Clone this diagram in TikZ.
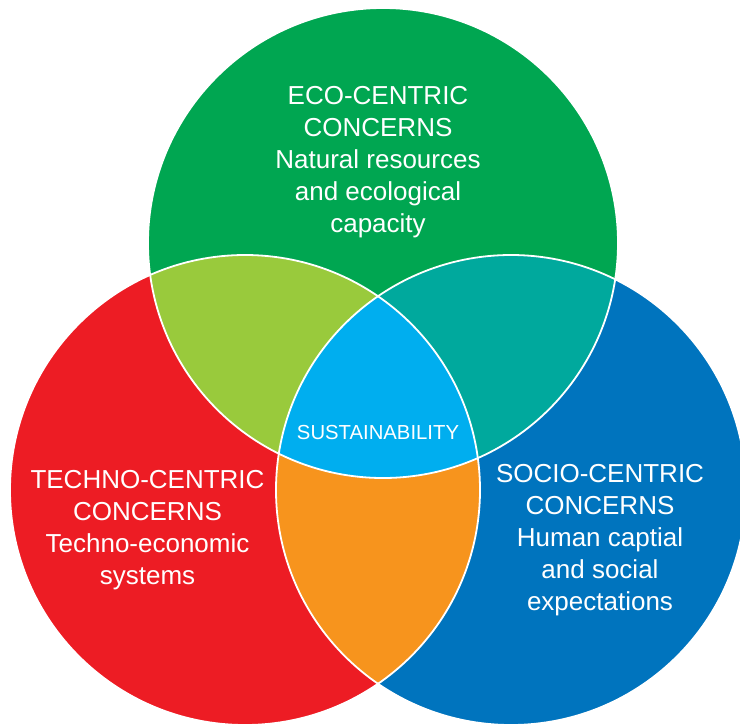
\documentclass[tikz,border=0pt]{standalone}
\usepackage{fontspec}
\setmainfont{Liberation Sans}
\usetikzlibrary{positioning}
\definecolor{ecogreen}{RGB}{0,166,81}
\definecolor{technored}{RGB}{237,28,36}
\definecolor{socioblue}{RGB}{0,116,190}
\definecolor{limegreen}{RGB}{153,202,60}
\definecolor{seateal}{RGB}{0,169,157}
\definecolor{amber}{RGB}{247,148,29}
\definecolor{skycyan}{RGB}{0,174,239}
\tikzset{
    border/.style = {draw=white, line width=1.8pt},
    bigtext/.style = {text=white, align=center, inner sep=0pt, font=\fontsize{26}{32}\selectfont},
    smalltext/.style = {text=white, inner sep=0pt, font=\fontsize{20.3}{24}\selectfont}
}

\begin{document}
\begin{tikzpicture}[x=1pt,y=-1pt]
  \useasboundingbox (0,0) rectangle (740,724);
  \clip (0,0) rectangle (740,724);
  \coordinate (eco) at (383,243);
  \coordinate (techno) at (245,490);
  \coordinate (socio) at (511,490);

  % the three circles
  \fill[ecogreen] (eco) circle (235pt);
  \fill[technored] (techno) circle (235pt);
  \fill[socioblue] (socio) circle (235pt);

  % overlaps
  \begin{scope}
    \clip (eco) circle (235pt);
    \fill[limegreen] (techno) circle (235pt);
    \fill[seateal] (socio) circle (235pt);
  \end{scope}
  \begin{scope}
    \clip (techno) circle (235pt);
    \fill[amber] (socio) circle (235pt);
  \end{scope}
  \begin{scope}
    \clip (eco) circle (235pt);
    \clip (techno) circle (235pt);
    \fill[skycyan] (socio) circle (235pt);
  \end{scope}

  \draw[border] (eco) circle (235pt);
  \draw[border] (techno) circle (235pt);
  \draw[border] (socio) circle (235pt);

  \node[bigtext] (ecol) at (378,162.5) {ECO-CENTRIC\\CONCERNS\\Natural resources\\and ecological\\capacity};
  \node[bigtext] (technol) at (147.5,530) {TECHNO-CENTRIC\\CONCERNS\\Techno-economic\\systems};
  \node[bigtext] (sociol) at (600,540) {SOCIO-CENTRIC\\CONCERNS\\Human captial\\and social\\expectations};
  \node[smalltext, anchor=base] (core) at (378,439) {SUSTAINABILITY};
\end{tikzpicture}
\end{document}
